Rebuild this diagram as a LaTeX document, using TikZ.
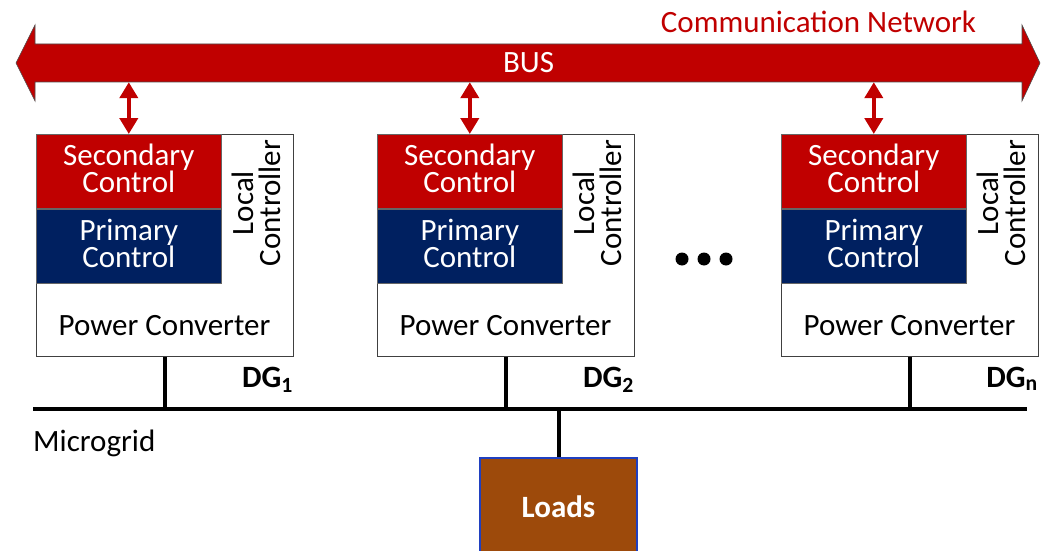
\documentclass[tikz,border=0pt]{standalone}
\usepackage{fontspec}
\setmainfont{Carlito}
\usetikzlibrary{arrows.meta}
\definecolor{busred}{HTML}{C00000}
\definecolor{navy}{HTML}{002060}
\definecolor{loadbrown}{HTML}{9D4A0B}
\definecolor{loadblue}{HTML}{2040C0}

\begin{document}
\begin{tikzpicture}[x=1pt,y=-1pt,
  txt/.style={font=\fontsize{31}{27}\selectfont, inner sep=0pt},
  boldtxt/.style={font=\fontsize{31}{27}\selectfont\bfseries, inner sep=0pt},
  dgbox/.style={draw=black!75, line width=0.8pt, fill=white,
    minimum width=257pt, minimum height=222pt, anchor=north west, inner sep=0pt},
  ctlbox/.style={txt, draw=black!60, line width=0.6pt, text=white, align=center,
    text depth=6pt, minimum width=185pt, minimum height=74pt, anchor=north west},
  wire/.style={line width=4pt, black},
  link/.style={line width=4.5pt, busred,
    {Triangle[width=18pt,length=16pt]}-{Triangle[width=18pt,length=16pt]}},
  dot/.style={circle, fill=black, minimum size=13pt, inner sep=0pt}
]
\useasboundingbox (0,0) rectangle (1045,551);

% communication bus (double-headed block arrow)
\filldraw[fill=busred, draw=black!70, line width=0.6pt]
  (16,63) -- (35,25) -- (35,44) -- (1022,44) -- (1022,25) -- (1040,63)
  -- (1022,101) -- (1022,82) -- (35,82) -- (35,101) -- cycle;
\node[txt, text=white, minimum width=987pt, minimum height=38pt] (bus) at (528.5,63) {BUS};
\node[txt, text=busred, anchor=base] (comm) at (818.5,33) {Communication Network};

% microgrid line
\coordinate (mgl) at (33,409);
\coordinate (mgr) at (1027,409);
\draw[wire] (mgl) -- (mgr);
\node[txt, anchor=base west] (mg) at (33,451) {Microgrid};

% distributed generation units
\foreach \i/\xl/\sub in {1/36/1, 2/377/2, 3/781/n} {
  \node[dgbox] (dg\i) at (\xl,134) {};
  \node[ctlbox, fill=busred] (sec\i) at (\xl,134) {Secondary\\Control};
  \node[ctlbox, fill=navy] (pri\i) at (sec\i.south west) {Primary\\Control};
  \node[txt, rotate=90, align=center] (lc\i) at (\xl+220,203) {Local\\Controller};
  \node[txt, anchor=base] (pc\i) at (\xl+128.5,335) {Power Converter};
  \node[boldtxt, anchor=base east] (lab\i) at (\xl+257,387) {DG\textsubscript{\sub}};
  \draw[link] (sec\i.north |- bus.south) -- (sec\i.north);
  \draw[wire] (dg\i.south) -- (dg\i.south |- mgl);
}

% ellipsis between units
\node[dot] (d1) at (682,259) {};
\node[dot] (d2) at (704,259) {};
\node[dot] (d3) at (726,259) {};

% loads
\node[boldtxt, text=white, draw=loadblue, line width=1.5pt, fill=loadbrown,
  minimum width=157pt, minimum height=98pt] (loads) at (558.5,507) {Loads};
\draw[wire] (loads.north |- mgl) -- (loads.north);
\end{tikzpicture}
\end{document}
